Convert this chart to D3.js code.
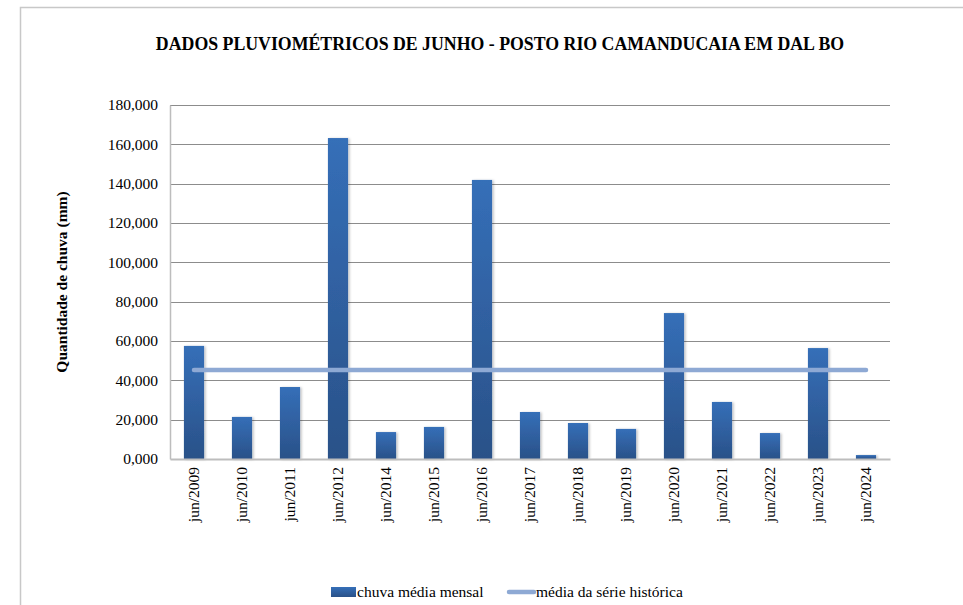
<!DOCTYPE html>
<html>
<head>
<meta charset="utf-8">
<script src="https://cdn.jsdelivr.net/npm/d3@7"></script>
<style>
  body { margin: 0; background: #fff; }
</style>
</head>
<body>
<svg width="963" height="605"></svg>
<script>
// data
const months = ["jun/2009", "jun/2010", "jun/2011", "jun/2012", "jun/2014", "jun/2015", "jun/2016",
  "jun/2017", "jun/2018", "jun/2019", "jun/2020", "jun/2021", "jun/2022", "jun/2023", "jun/2024"];
const rain = [57.5, 21.4, 36.6, 163.2, 13.7, 16.3, 141.9, 23.9, 18.3, 15.3, 74.2, 29.0, 13.2, 56.4, 2.0];
const historicMean = 45.3;
const yTicks = [0, 20, 40, 60, 80, 100, 120, 140, 160, 180];

const FONT = 'Liberation Serif';
const FS = '15.5px';

const svg = d3.select('svg');
const margin = { left: 170, right: 73, top: 105, bottom: 146 };
const W = 963, H = 605;
const innerW = W - margin.left - margin.right;
const innerH = H - margin.top - margin.bottom;

// chart border (only top and left visible)
svg.append('path')
  .attr('d', `M20.5,605 V7.5 H963`)
  .attr('fill', 'none')
  .attr('stroke', '#c8c8c8')
  .attr('stroke-width', 1.5);

// gradient for bars
const defs = svg.append('defs');
const grad = defs.append('linearGradient')
  .attr('id', 'barGrad').attr('x1', 0).attr('y1', 0).attr('x2', 0).attr('y2', 1);
grad.append('stop').attr('offset', '0%').attr('stop-color', '#356fb8');
grad.append('stop').attr('offset', '100%').attr('stop-color', '#2a5188');
const shadow = defs.append('filter').attr('id', 'shadow').attr('x', '-20%').attr('y', '-5%').attr('width', '150%').attr('height', '110%');
shadow.append('feDropShadow').attr('dx', 1.5).attr('dy', 0.5).attr('stdDeviation', 1).attr('flood-color', '#000').attr('flood-opacity', 0.25);

const x = d3.scaleBand().domain(months).range([0, innerW]).paddingInner(0.58).paddingOuter(0.29);
const y = d3.scaleLinear().domain([0, 180]).range([innerH, 0]);

const g = svg.append('g').attr('transform', `translate(${margin.left},${margin.top})`);

// gridlines
g.selectAll('line.grid')
  .data(yTicks.filter(d => d > 0))
  .enter().append('line')
  .attr('x1', 0).attr('x2', innerW)
  .attr('y1', d => Math.round(y(d)) + 0.5).attr('y2', d => Math.round(y(d)) + 0.5)
  .attr('stroke', '#8c8c8c').attr('stroke-width', 1);

// y axis
const yAxis = g.append('g')
  .call(d3.axisLeft(y).tickValues(yTicks).tickSize(0).tickPadding(12)
    .tickFormat(d => d + ',000'));
yAxis.select('.domain').attr('stroke', '#bdbdbd').attr('stroke-width', 1.5);
yAxis.selectAll('text')
  .attr('fill', '#000')
  .style('font-family', FONT)
  .style('font-size', FS);

// bars
g.selectAll('rect.bar')
  .data(rain)
  .enter().append('rect')
  .attr('class', 'bar')
  .attr('x', (d, i) => x(months[i]))
  .attr('y', d => y(d))
  .attr('width', x.bandwidth())
  .attr('height', d => innerH - y(d))
  .attr('fill', 'url(#barGrad)')
  .attr('filter', 'url(#shadow)');

// x axis
const xAxis = g.append('g')
  .attr('transform', `translate(0,${innerH})`)
  .call(d3.axisBottom(x).tickSize(0).tickPadding(8));
xAxis.select('.domain').attr('stroke', '#bdbdbd').attr('stroke-width', 2);
xAxis.selectAll('text')
  .attr('fill', '#000')
  .style('font-family', FONT)
  .style('font-size', FS)
  .attr('transform', 'rotate(-90)')
  .attr('text-anchor', 'end')
  .attr('dy', '0.35em')
  .attr('x', -8)
  .attr('y', 0);

// historic mean line
const line = d3.line()
  .x(d => x(d) + x.bandwidth() / 2)
  .y(() => y(historicMean));
g.append('path')
  .datum(months)
  .attr('d', line)
  .attr('fill', 'none')
  .attr('stroke', '#8ea9d4')
  .attr('stroke-width', 4.5)
  .attr('stroke-linecap', 'round');

// title
svg.append('text')
  .attr('x', 500).attr('y', 50)
  .attr('text-anchor', 'middle')
  .style('font-family', FONT)
  .style('font-size', '17.8px').style('font-weight', 'bold')
  .text('DADOS PLUVIOMÉTRICOS DE JUNHO - POSTO RIO CAMANDUCAIA EM DAL BO');

// y axis title
svg.append('text')
  .attr('transform', `translate(67,${margin.top + innerH / 2}) rotate(-90)`)
  .attr('text-anchor', 'middle')
  .style('font-family', FONT)
  .style('font-size', FS).style('font-weight', 'bold')
  .text('Quantidade de chuva (mm)');

// legend
const legend = svg.append('g').attr('transform', 'translate(331,592)');
legend.append('rect').attr('x', 0).attr('y', -5).attr('width', 25).attr('height', 10).attr('fill', 'url(#barGrad)');
legend.append('text').attr('x', 26).attr('y', 0).attr('dy', '0.35em')
  .style('font-family', FONT).style('font-size', FS)
  .text('chuva média mensal');
legend.append('line').attr('x1', 178).attr('x2', 203).attr('y1', 0).attr('y2', 0)
  .attr('stroke', '#8ea9d4').attr('stroke-width', 4.5).attr('stroke-linecap', 'round');
legend.append('text').attr('x', 205).attr('y', 0).attr('dy', '0.35em')
  .style('font-family', FONT).style('font-size', FS)
  .text('média da série histórica');
</script>
</body>
</html>
